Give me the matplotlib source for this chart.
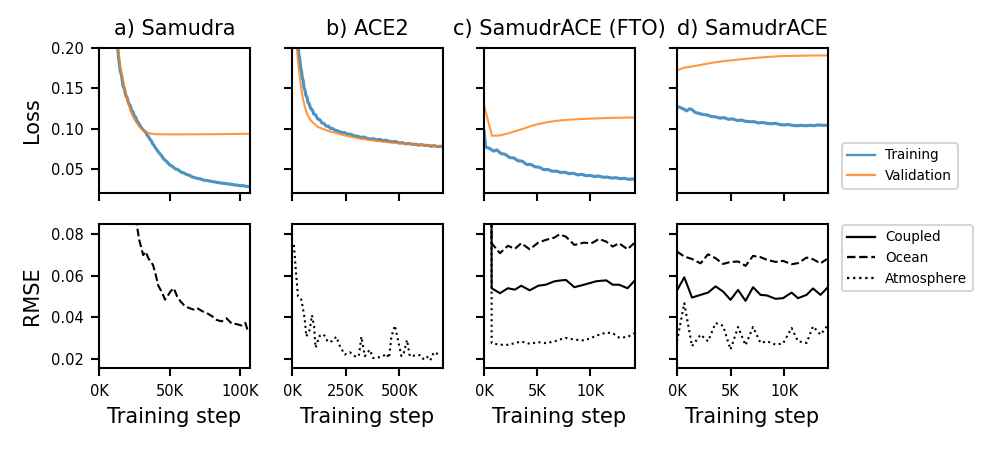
import matplotlib
matplotlib.use("Agg")
import matplotlib.pyplot as plt
from matplotlib.lines import Line2D

plt.rcParams['font.family'] = ['DejaVu Sans']
plt.rcParams['axes.linewidth'] = 1.0
plt.rcParams['xtick.major.width'] = 1.0
plt.rcParams['ytick.major.width'] = 1.0
plt.rcParams['xtick.major.size'] = 4.0
plt.rcParams['ytick.major.size'] = 4.0

titles = ["a) Samudra", "b) ACE2", "c) SamudrACE (FTO)", "d) SamudrACE"]

# ---- Loss data (steps in thousands) ----
a_train_x = [13,14,15,16,17,18,19,20,21,22,23,24,25,26,27,28,29,30,31,32,33,34,35,36,37,38,39,40,
             42,44,46,48,50,52,54,56,58,60,62,64,66,68,70,72,74,76,78,80,82,84,86,88,90,92,94,96,98,100,102,104,106]
a_train_y = [0.205,0.186,0.172,0.166,0.153,0.149,0.141,0.138,0.131,0.129,0.123,0.121,0.116,0.114,0.109,0.107,
             0.104,0.101,0.099,0.097,0.096,0.092,0.090,0.087,0.085,0.081,0.079,0.076,
             0.071,0.067,0.062,0.059,0.055,0.053,0.050,0.049,0.046,0.045,0.043,0.042,0.040,0.039,0.038,0.0375,
             0.036,0.0357,0.035,0.0343,0.0338,0.033,0.0326,0.032,0.0318,0.031,0.0308,0.030,0.0298,0.029,0.0292,0.0283,0.028]
a_val_x = [13,15,17,18,20,22,24,26,28,30,32,34,36,38,40,50,60,70,80,90,100,106]
a_val_y = [0.205,0.178,0.160,0.152,0.137,0.124,0.115,0.109,0.104,0.100,0.097,0.095,0.094,0.0935,0.093,
           0.0928,0.0928,0.0929,0.093,0.0932,0.0934,0.0935]

b_train_x = [28,32,36,40,44,48,52,56,60,65,70,75,80,87,95,102,110,120,130,140,150,160,170,180,190,200,215,230,
             245,260,275,290,305,320,335,350,365,380,395,410,425,440,455,470,485,500,515,530,545,560,575,590,
             605,620,635,650,665,680,695,705]
b_train_y = [0.205,0.192,0.187,0.176,0.172,0.163,0.160,0.151,0.148,0.141,0.139,0.132,0.131,0.125,0.123,0.118,
             0.117,0.112,0.111,0.107,0.106,0.103,0.103,0.100,0.100,0.098,0.097,0.095,0.095,0.093,0.093,0.091,
             0.0905,0.089,0.0895,0.088,0.087,0.0875,0.086,0.0865,0.085,0.0855,0.084,0.0835,0.0838,0.082,0.0825,
             0.081,0.0815,0.0805,0.0805,0.0795,0.080,0.079,0.0792,0.078,0.0787,0.0775,0.078,0.0772]
b_val_x = [20,23,27,30,36,43,51,60,68,75,85,95,108,121,140,160,180,200,238,280,316,360,400,440,472,510,550,590,620,660,705]
b_val_y = [0.22,0.20,0.187,0.178,0.165,0.150,0.137,0.127,0.120,0.116,0.111,0.108,0.105,0.102,0.100,0.098,0.096,
           0.095,0.092,0.0895,0.0875,0.086,0.0845,0.0833,0.0825,0.0815,0.0808,0.080,0.0795,0.0788,0.0778]

c_train_x = [0,0.15,0.5,0.9,1.2,1.6,2.0,2.4,2.8,3.2,3.6,4.0,4.4,4.8,5.2,5.6,6.0,6.4,6.8,7.2,7.6,8.0,8.4,8.8,
             9.2,9.6,10.0,10.4,10.8,11.2,11.6,12.0,12.4,12.8,13.2,13.6,14.0,14.2]
c_train_y = [0.097,0.077,0.0755,0.072,0.0735,0.069,0.068,0.064,0.0635,0.060,0.0595,0.0555,0.0555,0.0525,0.052,
             0.049,0.0492,0.047,0.0472,0.0455,0.0458,0.044,0.0445,0.0425,0.0432,0.0415,0.0418,0.0405,0.041,
             0.0395,0.0398,0.0385,0.039,0.0378,0.0382,0.037,0.0374,0.0366]
c_val_x = [0,0.75,1.5,2.25,3,3.75,4.5,5.25,6,6.75,7.5,8.25,9,9.75,10.5,11.25,12,12.75,13.5,14.2]
c_val_y = [0.129,0.091,0.0915,0.094,0.097,0.100,0.1035,0.106,0.108,0.1095,0.1105,0.1112,0.1118,0.1122,
           0.1126,0.1129,0.1132,0.1134,0.1136,0.1137]

d_train_x = [0,0.3,0.6,0.9,1.2,1.4,1.7,2.0,2.4,2.8,3.2,3.6,4.0,4.4,4.8,5.2,5.6,6.0,6.4,6.8,7.2,7.6,8.0,8.4,
             8.8,9.2,9.6,10.0,10.4,10.8,11.2,11.6,12.0,12.4,12.8,13.2,13.6,14.1]
d_train_y = [0.1275,0.126,0.1245,0.122,0.1245,0.1235,0.120,0.119,0.1175,0.117,0.115,0.1145,0.113,0.1135,
             0.1115,0.112,0.110,0.1105,0.109,0.1085,0.1085,0.107,0.1075,0.1065,0.106,0.1065,0.105,0.1045,
             0.105,0.104,0.1035,0.104,0.1035,0.104,0.1035,0.1045,0.104,0.104]
d_val_x = [0,0.6,1.4,2.2,3,3.7,4.5,5.3,6,6.8,7.6,8.4,9.2,10,10.8,11.5,12.3,13,14.1]
d_val_y = [0.172,0.1754,0.177,0.179,0.181,0.1825,0.184,0.185,0.186,0.187,0.188,0.1888,0.1895,0.19,0.1902,
           0.1904,0.1906,0.1907,0.1908]

# ---- RMSE data (steps in thousands) ----
a_ocean_x = [26,28.5,31.3,33.2,35,36.7,38.3,40.2,42,44.9,46.7,48.4,50.7,53,55.4,57.7,60,63.6,67,69.4,72.9,
             76.4,79.9,83.4,86.9,90.4,93.9,97.4,101,103.7,105.6]
a_ocean_y = [0.088,0.0773,0.070,0.0716,0.0684,0.0668,0.0652,0.0605,0.0552,0.0517,0.0485,0.050,0.0525,0.054,
             0.050,0.0477,0.046,0.0445,0.0437,0.0445,0.043,0.042,0.0406,0.0387,0.038,0.0395,0.037,0.0367,
             0.036,0.0373,0.033]

b_atm_x = [9,20,28,44,59,67,83,93,103,110,129,148,168,188,207,223,246,270,293,312,324,340,363,379,402,425,
           441,453,464,480,495,511,522,537,550,573,597,612,628,646,662,677,693]
b_atm_y = [0.0749,0.0597,0.050,0.0484,0.0395,0.0307,0.034,0.041,0.0357,0.0253,0.031,0.0317,0.028,0.0285,
           0.0306,0.0262,0.022,0.0231,0.0212,0.0212,0.0306,0.0212,0.0243,0.0203,0.0206,0.0212,0.0224,0.0203,
           0.0306,0.036,0.029,0.0212,0.0228,0.029,0.0212,0.0215,0.0217,0.0199,0.0212,0.0192,0.0231,0.0224,0.0231]

c_x = [0.62,0.72,1.5,2.25,2.9,3.5,4.3,5.1,5.8,6.6,7.1,7.7,8.5,9.4,10.1,10.5,10.8,11.5,12.1,12.7,13.5,14.1]
c_coupled = [0.30,0.054,0.0516,0.054,0.0533,0.0552,0.053,0.0552,0.0557,0.0573,0.0577,0.058,0.0545,0.0557,
             0.0567,0.0573,0.0575,0.0578,0.0557,0.0557,0.054,0.0573]
c_ocean = [0.30,0.0757,0.0709,0.0745,0.073,0.0757,0.0728,0.076,0.0773,0.0784,0.080,0.0789,0.0749,0.076,
           0.0757,0.0768,0.0778,0.0765,0.0741,0.0757,0.0728,0.0757]
c_atm = [0.30,0.0275,0.0267,0.0267,0.0275,0.0283,0.0272,0.028,0.0275,0.0283,0.0292,0.030,0.0292,0.0288,
         0.0300,0.031,0.0315,0.0326,0.0323,0.0302,0.0304,0.0323]

d_x = [0,0.68,1.4,2.2,2.9,3.6,4.3,5,5.7,6.4,7.1,7.8,8.4,9.2,9.9,10.7,11.3,12.1,12.7,13.4,14]
d_coupled = [0.0529,0.0593,0.0495,0.0508,0.0519,0.0549,0.0524,0.0484,0.0532,0.0479,0.0545,0.0508,0.0505,
             0.0489,0.0492,0.0519,0.0492,0.0508,0.0539,0.0508,0.054]
d_ocean = [0.0717,0.0693,0.0681,0.066,0.0704,0.0685,0.0657,0.0667,0.0669,0.0648,0.0696,0.069,0.0677,0.0667,
           0.0672,0.0656,0.0661,0.0688,0.068,0.066,0.0681]
d_atm = [0.0284,0.0468,0.026,0.0316,0.0284,0.0372,0.0359,0.0244,0.0353,0.0265,0.0353,0.0276,0.0284,0.0268,
         0.0273,0.0348,0.0284,0.0276,0.0356,0.0316,0.0356]

xlims = [(0, 107), (0, 705), (0, 14.2), (0, 14.1)]
xticks = [[0, 50, 100], [0, 250, 500], [0, 5, 10], [0, 5, 10]]
xticklabels = [["0K", "50K", "100K"], ["0K", "250K", "500K"], ["0K", "5K", "10K"], ["0K", "5K", "10K"]]
loss_yticks = [0.05, 0.10, 0.15, 0.20]
loss_yticklabels = ["0.05", "0.10", "0.15", "0.20"]
rmse_yticks = [0.02, 0.04, 0.06, 0.08]
rmse_yticklabels = ["0.02", "0.04", "0.06", "0.08"]

train_color = "#1f77b4"
val_color = "#ff7f0e"

W, H = 996, 450
fig = plt.figure(figsize=(W / 150, H / 150), dpi=150)
lefts = [99, 292, 484, 677]
aw = 151

def rect(lpx, toppx, botpx):
    return [lpx / W, 1 - botpx / H, aw / W, (botpx - toppx) / H]

top_axes = [fig.add_axes(rect(l, 48, 193)) for l in lefts]
bot_axes = [fig.add_axes(rect(l, 224, 368)) for l in lefts]

train = [(a_train_x, a_train_y), (b_train_x, b_train_y), (c_train_x, c_train_y), (d_train_x, d_train_y)]
val = [(a_val_x, a_val_y), (b_val_x, b_val_y), (c_val_x, c_val_y), (d_val_x, d_val_y)]

for i, ax in enumerate(top_axes):
    ax.plot(train[i][0], train[i][1], color=train_color, alpha=0.8, lw=1.5)
    ax.plot(val[i][0], val[i][1], color=val_color, alpha=0.8, lw=1.0)
    ax.set_xlim(*xlims[i])
    ax.set_ylim(0.02, 0.20)
    ax.set_xticks(xticks[i])
    ax.set_xticklabels([])
    ax.set_yticks(loss_yticks)
    if i == 0:
        ax.set_yticklabels(loss_yticklabels, fontsize=7)
        ax.set_ylabel("Loss", fontsize=10)
    else:
        ax.set_yticklabels([])
    ax.set_title(titles[i], fontsize=10)

ax = bot_axes[0]
ax.plot(a_ocean_x, a_ocean_y, color="black", lw=1.0, ls="--")
ax = bot_axes[1]
ax.plot(b_atm_x, b_atm_y, color="black", lw=1.0, ls=":")
ax = bot_axes[2]
ax.plot(c_x, c_coupled, color="black", lw=1.0, ls="-")
ax.plot(c_x, c_ocean, color="black", lw=1.0, ls="--")
ax.plot(c_x, c_atm, color="black", lw=1.0, ls=":")
ax = bot_axes[3]
ax.plot(d_x, d_coupled, color="black", lw=1.0, ls="-")
ax.plot(d_x, d_ocean, color="black", lw=1.0, ls="--")
ax.plot(d_x, d_atm, color="black", lw=1.0, ls=":")

for i, ax in enumerate(bot_axes):
    ax.set_xlim(*xlims[i])
    ax.set_ylim(0.0155, 0.085)
    ax.set_xticks(xticks[i])
    ax.set_xticklabels(xticklabels[i], fontsize=7)
    ax.set_yticks(rmse_yticks)
    if i == 0:
        ax.set_yticklabels(rmse_yticklabels, fontsize=7)
        ax.set_ylabel("RMSE", fontsize=10)
    else:
        ax.set_yticklabels([])
    ax.set_xlabel("Training step", fontsize=10)

h1 = [Line2D([], [], color=train_color, alpha=0.8, lw=1.1),
      Line2D([], [], color=val_color, alpha=0.8, lw=1.1)]
fig.legend(h1, ["Training", "Validation"], loc="upper left",
           bbox_to_anchor=(842 / W, 1 - 143 / H), borderaxespad=0, fontsize=6.5)
h2 = [Line2D([], [], color="black", lw=1.1, ls="-"),
      Line2D([], [], color="black", lw=1.1, ls="--"),
      Line2D([], [], color="black", lw=1.1, ls=":")]
fig.legend(h2, ["Coupled", "Ocean", "Atmosphere"], loc="upper left",
           bbox_to_anchor=(842 / W, 1 - 225 / H), borderaxespad=0, fontsize=6.5)

fig.savefig("out.png", dpi=150)
